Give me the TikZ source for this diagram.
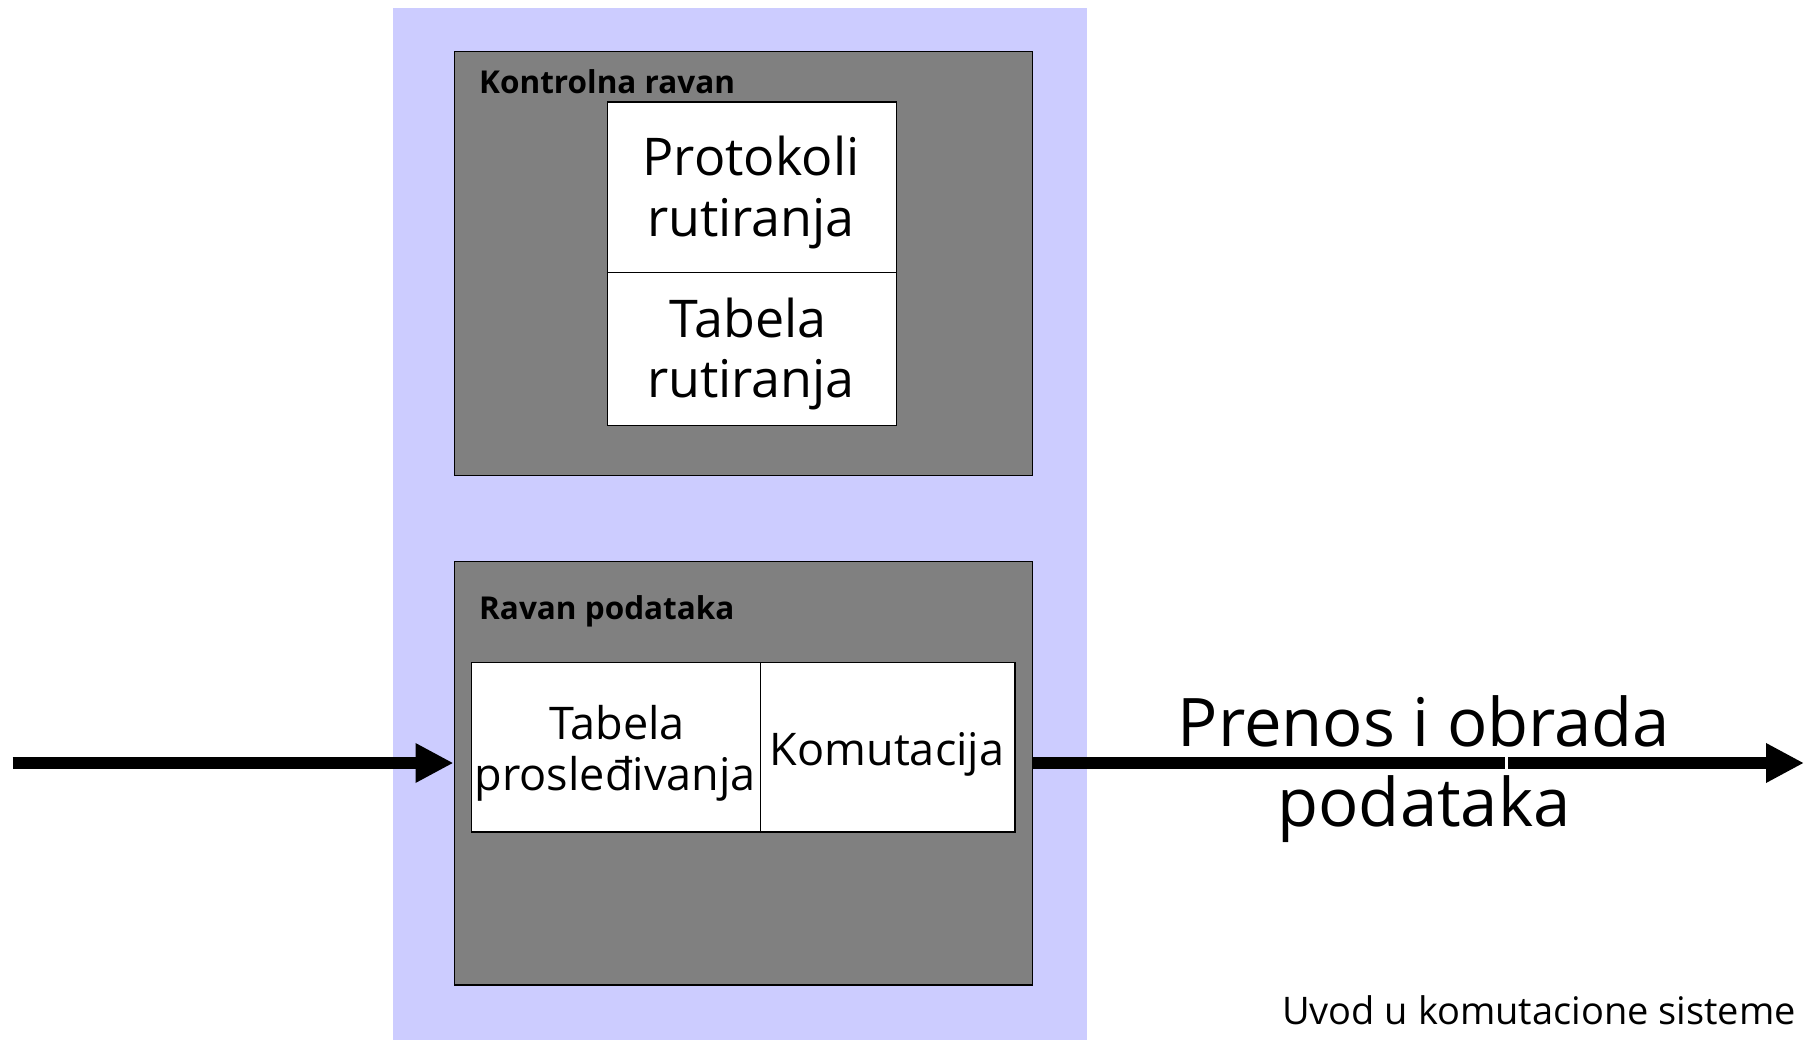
\documentclass[tikz,border=0pt]{standalone}
\usepackage{fontspec}
\setmainfont{Open Sans}
\usetikzlibrary{arrows.meta}
\definecolor{lav}{HTML}{CCCCFF}
\definecolor{planegray}{HTML}{808080}
\tikzset{
  panel/.style={fill=lav, draw=none, inner sep=0pt, anchor=north west},
  plane/.style={fill=planegray, draw=black, line width=1.5pt, inner sep=0pt, anchor=north west},
  cell/.style={fill=white, draw=black, line width=1.5pt, inner sep=0pt, anchor=north west},
  flow/.style={line width=12pt, -{Triangle[length=38pt,width=37pt]}},
  txt/.style={inner sep=0pt, anchor=base},
  lbl/.style={inner sep=0pt, anchor=base west, font=\fontsize{31.5}{38}\selectfont\bfseries},
  cellfont/.style={font=\fontsize{52}{60}\selectfont},
  dpfont/.style={font=\fontsize{45}{52}\selectfont},
  flowfont/.style={font=\fontsize{67}{80}\selectfont},
}
\begin{document}
\begin{tikzpicture}[x=1pt,y=-1pt]
\useasboundingbox (0,0) rectangle (1805,1040);
% lavender background panel
\node[panel, minimum width=694pt, minimum height=1032pt] (bg) at (392.5,8) {};
% control plane
\node[plane, minimum width=578pt, minimum height=424pt] (cp) at (453.5,50.6) {};
\node[lbl] (cpl) at (479,94) {Kontrolna ravan};
\node[cell, minimum width=289pt, minimum height=170.4pt] (proto) at (606.6,101.3) {};
\node[cell, minimum width=289pt, minimum height=153.1pt] (rtab) at (606.6,271.7) {};
\node[txt, cellfont] (proto1) at (751,176) {Protokoli};
\node[txt, cellfont] (proto2) at (751,237) {rutiranja};
\node[txt, cellfont] (rtab1) at (748,338) {Tabela};
\node[txt, cellfont] (rtab2) at (751,398) {rutiranja};
% data plane
\node[plane, minimum width=578pt, minimum height=423.6pt] (dp) at (453.5,560.6) {};
\node[lbl] (dpl) at (479,619) {Ravan podataka};
\node[cell, minimum width=288.9pt, minimum height=169.2pt] (ftab) at (470.8,661.9) {};
\node[cell, minimum width=254.4pt, minimum height=169.2pt] (sw) at (759.7,661.9) {};
\node[txt, dpfont] (ftab1) at (617,739) {Tabela};
\node[txt, dpfont] (ftab2) at (615.2,790) {prosleđivanja};
\node[txt, dpfont] (swl) at (887,765.5) {Komutacija};
% arrows
\coordinate (inStart) at (12.7,763);
\coordinate (outEnd) at (1804,763);
\draw[flow] (inStart) -- (dp.west |- inStart);
\draw[flow] (dp.east |- outEnd) -- (outEnd);
% small white break in the outgoing line
\draw[white, line width=3pt] (1506,756) -- (1506,770);
% flow label
\node[txt, flowfont] (fl1) at (1424,746) {Prenos i obrada};
\node[txt, flowfont] (fl2) at (1424,826.5) {podataka};
% footer
\node[inner sep=0pt, anchor=base east, font=\fontsize{38}{46}\selectfont] (foot) at (1796,1024.5) {Uvod u komutacione sisteme};
\end{tikzpicture}
\end{document}
